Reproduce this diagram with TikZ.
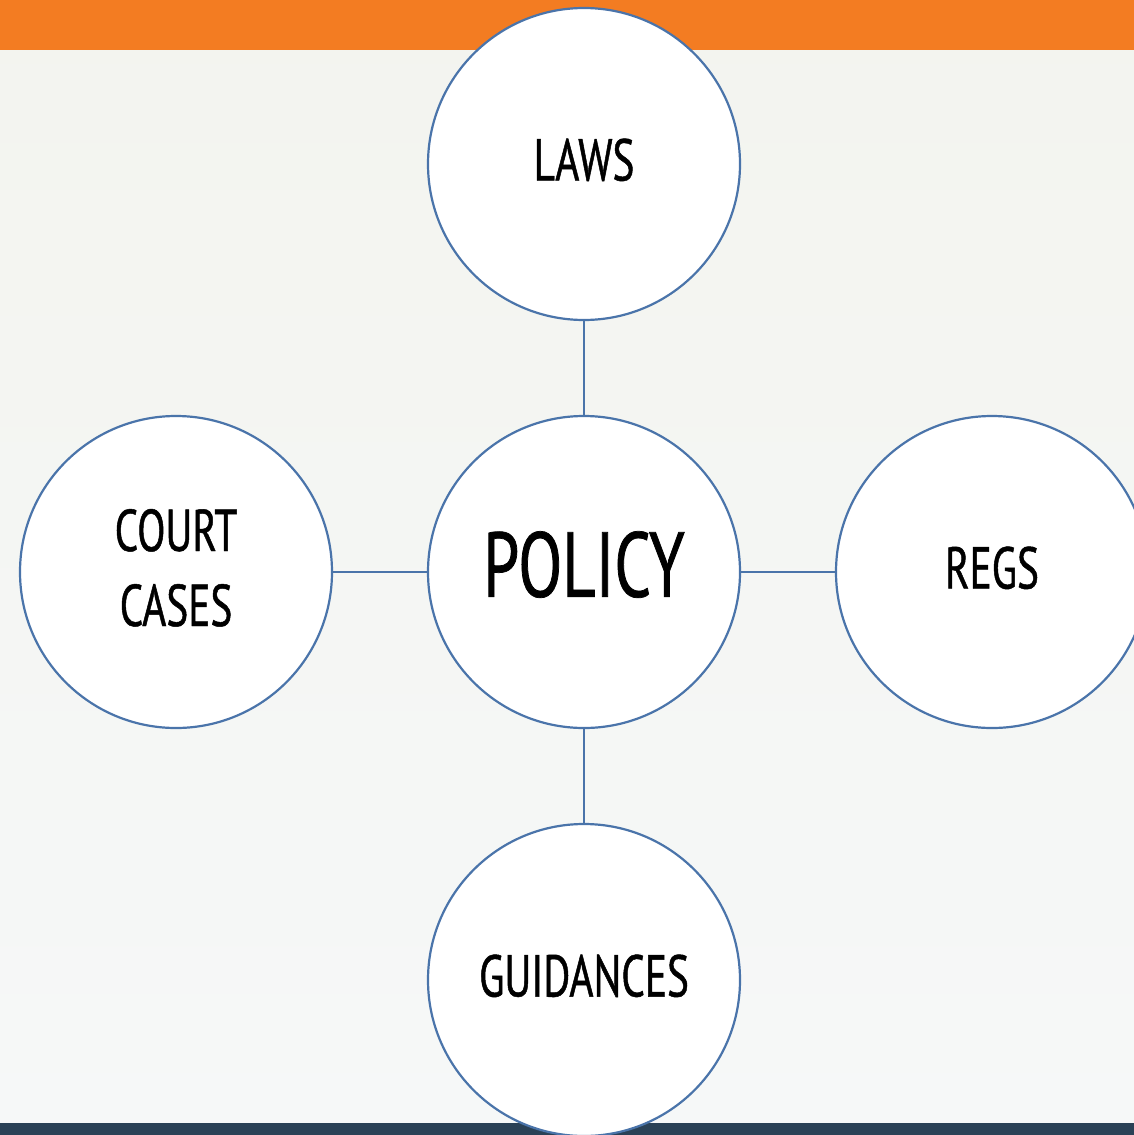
\documentclass[tikz,border=0pt]{standalone}
\usepackage{fontspec}
\newfontfamily\osw[FakeStretch=0.70,FakeBold=0.8]{PT Sans}
\definecolor{orangebar}{HTML}{F37C22}
\definecolor{darkbar}{HTML}{2A4156}
\definecolor{bgtop}{HTML}{F3F4EF}
\definecolor{bgbot}{HTML}{F6F8F8}
\definecolor{ringblue}{HTML}{4A74AA}
\tikzset{
  topic/.style={circle, draw=ringblue, line width=2.2pt, fill=white, minimum size=312pt, inner sep=0pt, align=center, text depth=9pt, font=\osw\fontsize{59}{75}\selectfont, text=black},
  link/.style={draw=ringblue, line width=2.2pt}
}
\begin{document}
\begin{tikzpicture}[x=1pt,y=-1pt]
\useasboundingbox (0,0) rectangle (1134,1135);
\shade[top color=bgtop, bottom color=bgbot] (0,0) rectangle (1134,1135);
\fill[orangebar] (0,0) rectangle (1134,50);
\fill[darkbar] (0,1123) rectangle (1134,1135);
\node[topic, text depth=16pt, font=\osw\fontsize{92}{100}\selectfont] (policy) at (584,572) {POLICY};
\node[topic] (laws) at (584,164) {LAWS};
\node[topic] (court) at (176,572) {COURT\\CASES};
\node[topic] (regs) at (992,572) {REGS};
\node[topic] (guid) at (584,980) {GUIDANCES};
\draw[link] (policy) -- (laws);
\draw[link] (policy) -- (court);
\draw[link] (policy) -- (regs);
\draw[link] (policy) -- (guid);
\end{tikzpicture}
\end{document}
